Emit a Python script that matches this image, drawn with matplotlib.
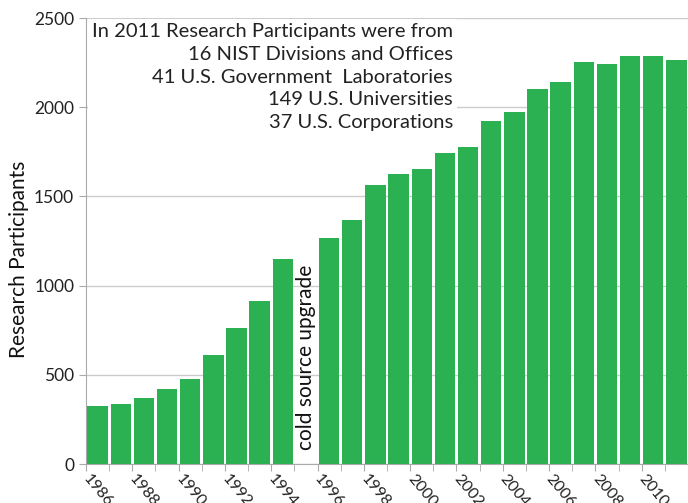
import numpy as np
import matplotlib.pyplot as plt
import matplotlib.transforms as mtransforms

plt.rcParams['font.family'] = ['Lato', 'DejaVu Sans']

# research participants per year (no operation in 1995)
years = [1986, 1987, 1988, 1989, 1990, 1991, 1992, 1993, 1994,
         1996, 1997, 1998, 1999, 2000, 2001, 2002, 2003, 2004,
         2005, 2006, 2007, 2008, 2009, 2010, 2011]
participants = [327, 335, 368, 422, 475, 609, 762, 914, 1147,
                1265, 1366, 1562, 1625, 1654, 1743, 1777, 1921, 1972,
                2100, 2141, 2253, 2244, 2288, 2288, 2266]
label_years = list(range(1986, 2011, 2))
info_lines = ["In 2011 Research Participants were from",
              "16 NIST Divisions and Offices",
              "41 U.S. Government  Laboratories",
              "149 U.S. Universities",
              "37 U.S. Corporations"]

first = years[0]
n_slots = years[-1] - first + 1

fig = plt.figure(figsize=(6.88, 5.03), dpi=100)
ax = fig.add_axes([0.125, 0.0775, 0.875, 0.8865])

x = np.array(years) - first + 0.5
ax.bar(x, participants, width=0.88, color='#2bb052', zorder=2)

ax.set_xlim(0, n_slots)
ax.set_ylim(0, 2500)
ax.set_yticks(range(0, 2501, 500))
ax.yaxis.grid(True, color='#cccccc', linewidth=1, zorder=0)
ax.tick_params(axis='y', length=5, color='#aaaaaa', labelsize=12.5, labelcolor='#222222')

ax.set_xticks(range(n_slots + 1), minor=True)
ax.set_xticks([y - first for y in label_years])
ax.set_xticklabels([str(y) for y in label_years], rotation=-50,
                   ha='left', va='top', rotation_mode='anchor', fontsize=11.5)
ax.tick_params(axis='x', which='both', length=5, color='#aaaaaa', labelcolor='#222222')
ax.tick_params(axis='x', which='major', pad=1)
# nudge the slanted year labels a little to the right
shift = mtransforms.ScaledTranslation(5 / 100, 0, fig.dpi_scale_trans)
for lbl in ax.get_xticklabels():
    lbl.set_transform(lbl.get_transform() + shift)

for side in ['top', 'right']:
    ax.spines[side].set_visible(False)
for side in ['left', 'bottom']:
    ax.spines[side].set_color('#aaaaaa')

ax.set_ylabel('Research Participants', fontsize=15, color='#111111')
ax.yaxis.set_label_coords(-0.094, 0.46)

# gap year marker
ax.text(1995 - first + 0.5, 80, 'cold source upgrade', rotation=90,
        ha='center', va='bottom', fontsize=15, color='#111111', zorder=3)

ax.text(15.85, 2470, '\n'.join(info_lines), ha='right', va='top',
        multialignment='right', fontsize=14.5, color='#222222',
        linespacing=1.4, zorder=4,
        bbox=dict(facecolor='white', edgecolor='none', pad=3))

fig.savefig('out.png', dpi=100)
